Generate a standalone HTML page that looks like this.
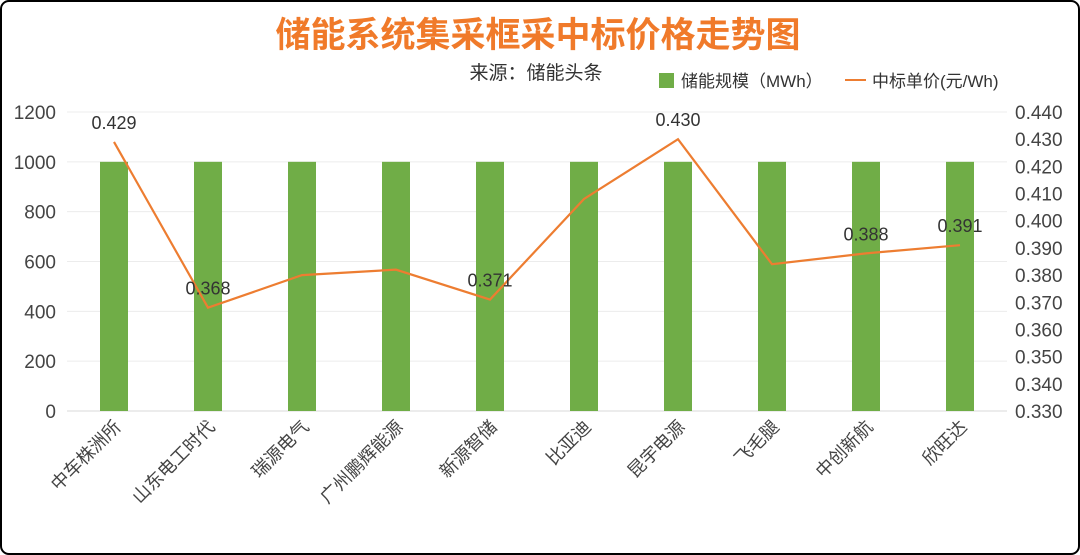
<!DOCTYPE html>
<html><head><meta charset="utf-8"><style>
html,body{margin:0;padding:0;background:#fff}
svg{display:block;font-family:"Liberation Sans","Noto Sans CJK SC",sans-serif}
</style></head><body>
<svg id="chart" width="1080" height="555" viewBox="0 0 1080 555">
<rect x="1" y="1" width="1078" height="553" rx="8" fill="#fff" stroke="#000" stroke-width="2"/>
<text x="538" y="47" text-anchor="middle" font-size="35" font-weight="bold" fill="#F07A2A" font-family="'Liberation Sans','Noto Sans CJK SC',sans-serif">储能系统集采框采中标价格走势图</text>
<text x="536" y="79" text-anchor="middle" font-size="19" fill="#333">来源：储能头条</text>
<g>
<rect x="659" y="73" width="15" height="15" fill="#70AD47"/>
<text x="681" y="87" font-size="17" fill="#333">储能规模（MWh）</text>
<line x1="845" y1="80" x2="866" y2="80" stroke="#ED7D31" stroke-width="2"/>
<text x="872" y="87" font-size="17" fill="#333">中标单价(元/Wh)</text>
</g>
<g id="grid"></g><g id="bars"></g><g id="line"></g><g id="axes"></g>
</svg>
<script>
const categories=["中车株洲所","山东电工时代","瑞源电气","广州鹏辉能源","新源智储","比亚迪","昆宇电源","飞毛腿","中创新航","欣旺达"];
const capacity=[1000,1000,1000,1000,1000,1000,1000,1000,1000,1000];
const price=[0.429,0.368,0.380,0.382,0.371,0.408,0.430,0.384,0.388,0.391];
const shownLabels=[true,true,false,false,true,false,true,false,true,true];
const leftTicks=[0,200,400,600,800,1000,1200];
const rightTicks=[0.330,0.340,0.350,0.360,0.370,0.380,0.390,0.400,0.410,0.420,0.430,0.440];
const NS="http://www.w3.org/2000/svg";
const X0=67,X1=1007,Y0=411,Y1=112;
const yL=v=>Y0-(v-0)/(1200-0)*(Y0-Y1);
const yR=v=>Y0-(v-0.33)/(0.44-0.33)*(Y0-Y1);
const step=(X1-X0)/categories.length;
const xC=i=>X0+step*(i+0.5);
function mk(t,a,p){const e=document.createElementNS(NS,t);for(const k in a)e.setAttribute(k,a[k]);p.appendChild(e);return e;}
const grid=document.getElementById('grid'),bars=document.getElementById('bars'),line=document.getElementById('line'),axes=document.getElementById('axes');
leftTicks.forEach(v=>{
 const g=mk('line',{x1:X0,x2:X1,y1:yL(v),y2:yL(v),stroke:v===0?'#d9d9d9':'#ececec','stroke-width':1},grid);
 
 
 const t=mk('text',{x:56,y:yL(v)+7,'text-anchor':'end','font-size':19,fill:'#444'},axes);t.textContent=v;
 
 
});
rightTicks.forEach(v=>{
 const t=mk('text',{x:1015,y:yR(v)+7,'font-size':19,fill:'#444'},axes);t.textContent=v.toFixed(3);
 
 
});
categories.forEach((c,i)=>{
 const b=mk('rect',{x:xC(i)-14,y:yL(capacity[i]),width:28,height:Y0-yL(capacity[i]),fill:'#70AD47'},bars);
 
 
 const t=mk('text',{x:0,y:0,'text-anchor':'end','font-size':18,fill:'#444',transform:`translate(${xC(i)+8},${428}) rotate(-45)`},axes);t.textContent=c;
 
 
});
const pts=price.map((v,i)=>xC(i)+','+yR(v)).join(' ');
const pl=mk('polyline',{points:pts,fill:'none',stroke:'#ED7D31','stroke-width':2.2},line);


price.forEach((v,i)=>{
 if(!shownLabels[i])return;
 const t=mk('text',{x:xC(i),y:yR(v)-13,'text-anchor':'middle','font-size':18,fill:'#333'},line);t.textContent=v.toFixed(3);
 
 
});
</script>
</body></html>
